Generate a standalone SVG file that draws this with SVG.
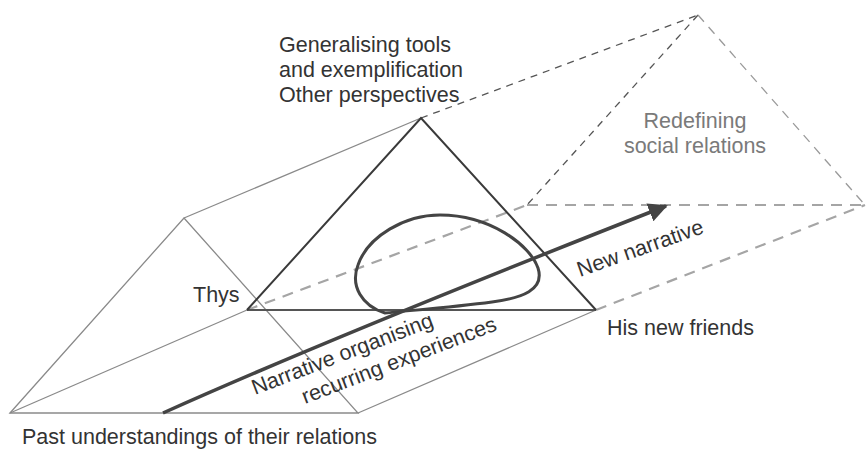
<svg xmlns="http://www.w3.org/2000/svg" width="867" height="450" viewBox="0 0 867 450">
  <defs>
    <style>
      .txt { font-family: "Liberation Sans", Arial, sans-serif; font-size: 21.5px; fill: #333; }
      .soft { fill: #7a7a7a; }
      .edge { stroke: #8a8a8a; stroke-width: 1.3; fill: none; }
      .front { stroke: #3a3a3a; stroke-width: 2; fill: none; }
      .base { stroke: #555; stroke-width: 2.2; fill: none; }
      .dash-dark { stroke: #555; stroke-width: 1.3; stroke-dasharray: 7 6; fill: none; }
      .dash-soft { stroke: #9a9a9a; stroke-width: 1.3; stroke-dasharray: 9 7; fill: none; }
      .dash-wide { stroke: #a5a5a5; stroke-width: 2.2; stroke-dasharray: 11 8; fill: none; }
      .loop { stroke: #444; stroke-width: 3; fill: none; }
      .arrow { stroke: #444; stroke-width: 3.5; fill: none; }
    </style>
    <marker id="head" viewBox="0 0 10 10" refX="9" refY="5" markerWidth="5.5" markerHeight="5.5" markerUnits="strokeWidth" orient="auto">
      <path d="M0,0 L10,5 L0,10 Z" fill="#444"/>
    </marker>
  </defs>

  <rect width="867" height="450" fill="#ffffff"/>

  <!-- connectors: prism edges, hidden edges and the narrative arrow -->
  <g id="connectors">
    <!-- rear face (past understandings) -->
    <path class="edge" d="M10,413 L184,218 L358,413 Z"/>
    <!-- edges running back to the present triangle -->
    <line class="edge" x1="10" y1="413" x2="247" y2="310"/>
    <line class="edge" x1="184" y1="218" x2="421" y2="118"/>
    <line class="edge" x1="358" y1="413" x2="596" y2="310"/>
    <!-- projected future prism -->
    <line class="dash-dark" x1="421" y1="118" x2="698" y2="15"/>
    <line class="dash-dark" x1="698" y1="15" x2="527" y2="205"/>
    <line class="dash-soft" x1="698" y1="15" x2="865" y2="205"/>
    <line class="dash-wide" x1="527" y1="205" x2="865" y2="205"/>
    <line class="dash-wide" x1="247" y1="310" x2="527" y2="205"/>
    <line class="dash-wide" x1="596" y1="310" x2="865" y2="205"/>
    <!-- present triangle -->
    <line class="base" x1="247" y1="310" x2="596" y2="310"/>
    <path class="front" d="M247,310 L421,118 L596,310"/>
    <!-- loop of the present moment -->
    <path class="loop" d="M385,313 C362,306 350,286 358,265 C368,236 405,215 440,215 C490,215 530,245 538,268 C545,290 522,298 492,302 C455,307 415,310 385,313 Z"/>
    <!-- narrative arrow -->
    <path class="arrow" d="M163,413 Q330,338 666,206" marker-end="url(#head)"/>
  </g>

  <g id="node-tools">
    <text class="txt" x="279" y="52">Generalising tools</text>
    <text class="txt" x="279" y="77">and exemplification</text>
    <text class="txt" x="279" y="102">Other perspectives</text>
  </g>

  <g id="node-redefining">
    <text class="txt soft" x="695" y="128" text-anchor="middle">Redefining</text>
    <text class="txt soft" x="695" y="153" text-anchor="middle">social relations</text>
  </g>

  <g id="node-thys">
    <text class="txt" x="193" y="302">Thys</text>
  </g>

  <g id="node-friends">
    <text class="txt" x="607" y="335">His new friends</text>
  </g>

  <g id="node-past">
    <text class="txt" x="22" y="444">Past understandings of their relations</text>
  </g>

  <g id="label-old-narrative">
    <text class="txt" transform="translate(255,395) rotate(-21)">Narrative organising</text>
    <text class="txt" transform="translate(305,404) rotate(-21)">recurring experiences</text>
  </g>

  <g id="label-new-narrative">
    <text class="txt" transform="translate(580,277) rotate(-19.5)">New narrative</text>
  </g>
</svg>
